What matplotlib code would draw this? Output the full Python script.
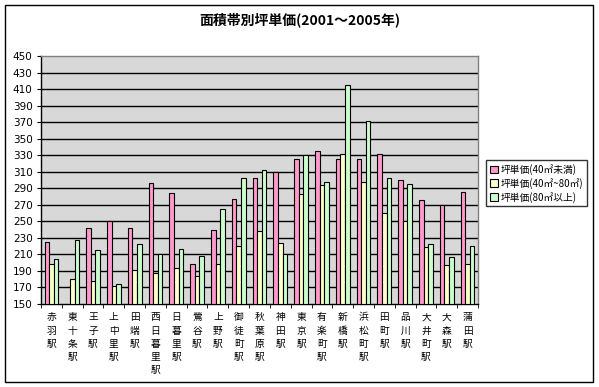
import numpy as np
import matplotlib
matplotlib.use("Agg")
import matplotlib.pyplot as plt
from matplotlib.patches import Rectangle

plt.rcParams['font.family'] = ['Noto Sans CJK JP', 'DejaVu Sans']

stations = ["赤羽駅", "東十条駅", "王子駅", "上中里駅", "田端駅", "西日暮里駅", "日暮里駅",
            "鶯谷駅", "上野駅", "御徒町駅", "秋葉原駅", "神田駅", "東京駅", "有楽町駅",
            "新橋駅", "浜松町駅", "田町駅", "品川駅", "大井町駅", "大森駅", "蒲田駅"]
small = [225, np.nan, 242, 250, 242, 296, 284, 198, 239, 277, 303, 310, 325, 335,
         326, 326, 332, 300, 276, 270, 286]
medium = [198, 180, 178, 172, 191, 188, 194, 184, 198, 220, 238, 224, 283, 294,
          331, 297, 260, 250, 219, 197, 198]
large = [205, 228, 215, 174, 223, 211, 217, 208, 265, 303, 312, 210, 330, 297,
         415, 371, 302, 295, 222, 207, 220]
series_names = ["坪単価(40㎡未満)", "坪単価(40㎡~80㎡)", "坪単価(80㎡以上)"]
series_colors = ["#ff99cc", "#ffffcc", "#ccffcc"]
yticks = list(range(150, 451, 20))

W, H = 599, 387
fig = plt.figure(figsize=(W / 100, H / 100), dpi=100)
fig.patch.set_facecolor("white")

# outer chart border
fig.add_artist(Rectangle((5 / W, 1 - 382 / H), 588 / W, 377 / H, transform=fig.transFigure,
                         fill=False, edgecolor="black", linewidth=1.0))

ax = fig.add_axes([41 / W, 1 - 304 / H, 437 / W, 248 / H])
ax.set_facecolor("#d8d8d8")

x = np.arange(len(stations))
w = 0.22
for k, (vals, col, name) in enumerate(zip([small, medium, large], series_colors, series_names)):
    ax.bar(x + (k - 1) * w, np.array(vals, dtype=float) - 150, bottom=150, width=w,
           color=col, edgecolor="black", linewidth=0.8, label=name, zorder=3)

ax.set_ylim(150, 450)
ax.set_xlim(-0.5, len(stations) - 0.5)
ax.set_yticks(yticks)
ax.set_yticklabels([str(v) for v in yticks], fontsize=7.5, family="DejaVu Sans")
for v in yticks[1:-1]:
    ax.axhline(v, color="black", linewidth=1.0, zorder=1)

ax.set_xticks(x)
ax.set_xticklabels(["\n".join(s) for s in stations], fontsize=7, linespacing=1.4, va="top")
ax.tick_params(axis="x", which="major", length=0, pad=6)
ax.set_xticks(np.arange(-0.5, len(stations)), minor=True)
ax.tick_params(axis="x", which="minor", length=3, direction="out", color="black")
ax.tick_params(axis="y", length=3, direction="out", pad=3)

for side in ["top", "right"]:
    ax.spines[side].set_color("#808080")
    ax.spines[side].set_linewidth(1.0)
for side in ["left", "bottom"]:
    ax.spines[side].set_color("black")
    ax.spines[side].set_linewidth(1.0)

fig.text(300 / W, 1 - 20 / H, "面積帯別坪単価(2001～2005年)", ha="center", va="center",
         fontsize=10, fontweight="bold")

leg = fig.legend(loc="upper left", bbox_to_anchor=(486 / W, 1 - 160 / H), fontsize=7,
                 frameon=True, fancybox=False, handlelength=0.8, handleheight=0.8,
                 handletextpad=0.3, borderpad=0.4, labelspacing=0.3, borderaxespad=0)
leg.get_frame().set_edgecolor("black")
leg.get_frame().set_linewidth(1.0)

fig.savefig("out.png", dpi=100)
